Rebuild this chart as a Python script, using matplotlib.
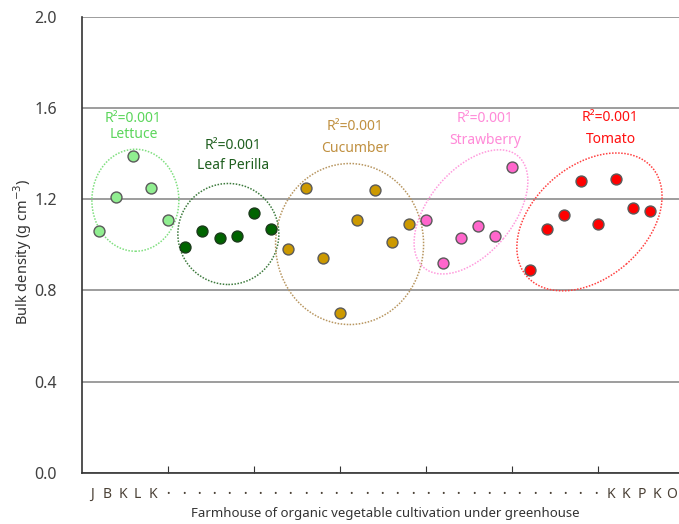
import numpy as np
import matplotlib.pyplot as plt
from matplotlib.patches import Ellipse
from matplotlib.transforms import ScaledTranslation

plt.rcParams['font.family'] = ['Noto Sans', 'DejaVu Sans']

# Bulk density per farmhouse, grouped by crop
lettuce = [1.06, 1.21, 1.39, 1.25, 1.11]
leaf_perilla = [0.99, 1.06, 1.03, 1.04, 1.14, 1.07]
cucumber = [0.98, 1.25, 0.94, 0.70, 1.11, 1.24, 1.01, 1.09]
strawberry = [1.11, 0.92, 1.03, 1.08, 1.04, 1.34]
tomato = [0.89, 1.07, 1.13, 1.28, 1.09, 1.29, 1.16, 1.15]

crops = ['Lettuce', 'Leaf Perilla', 'Cucumber', 'Strawberry', 'Tomato']
r2_values = [0.001, 0.001, 0.001, 0.001, 0.001]

# Farmhouse codes written under the axis
farm_labels = ['J', 'B', 'K', 'L', 'K'] + ['•'] * 29 + ['K', 'K', 'P', 'K', 'O']

face_colors = ['#90EE90', '#006400', '#CC9900', '#FF66CC', '#FF0000']
edge_colors = ['#5a5a5a', '#1a3a1a', '#5a5a5a', '#5a5a5a', '#5a5a5a']
text_colors = ['#5CD65C', '#1F5F1F', '#C09040', '#FF8AD8', '#FF1010']
ring_colors = ['#7FDF7F', '#3C7A3C', '#B89660', '#FF9ADD', '#FF4040']

# ellipse: centre (data), width/height in inches, angle in degrees
rings = [
    (3.11, 1.195, 0.87, 1.02, 0),
    (8.51, 1.047, 1.01, 1.01, 0),
    (15.55, 1.003, 1.48, 1.61, 0),
    (22.6, 1.144, 1.46, 0.84, 50),
    (29.48, 1.100, 1.66, 1.12, 41),
]
# label anchor (data x, y of the R² line) and drop to the crop name
label_pos = [(3.0, 1.555), (8.8, 1.435), (15.85, 1.52), (23.4, 1.555), (30.7, 1.56)]
name_drop = [0.072, 0.088, 0.1, 0.096, 0.1]

fig = plt.figure(figsize=(6.79, 5.24), dpi=100)
ax = fig.add_axes([0.1205, 0.0979, 0.8876, 0.8702])

series = [lettuce, leaf_perilla, cucumber, strawberry, tomato]
start = 1
for i, vals in enumerate(series):
    xs = np.arange(start, start + len(vals))
    start += len(vals)
    ax.scatter(xs, vals, s=62, color=face_colors[i], edgecolors=edge_colors[i],
               linewidths=1.0, zorder=3)

    cx, cy, w, h, ang = rings[i]
    tr = fig.dpi_scale_trans + ScaledTranslation(cx, cy, ax.transData)
    ax.add_patch(Ellipse((0, 0), w, h, angle=ang, transform=tr, fill=False,
                         edgecolor=ring_colors[i], linestyle=(0, (1, 1)),
                         linewidth=1.1, zorder=2))

    lx, ly = label_pos[i]
    ax.text(lx, ly, f'R²={r2_values[i]:.3f}', color=text_colors[i],
            ha='center', va='center', fontsize=10)
    ax.text(lx, ly - name_drop[i], crops[i], color=text_colors[i],
            ha='center', va='center', fontsize=10)

ax.set_xlim(0, 35)
ax.set_ylim(0, 2.0)
ax.set_yticks(np.arange(0, 2.01, 0.4))
ax.set_yticklabels([f'{v:.1f}' for v in np.arange(0, 2.01, 0.4)])
ax.set_xticks(np.arange(5, 35, 5))
ax.set_xticklabels([])
ax.tick_params(axis='x', direction='in', length=5, color='#333333')
ax.tick_params(axis='y', length=0, pad=18, labelsize=11.5, labelcolor='#404040')

ax.grid(axis='y', color='#8c8c8c', linewidth=1.2)
ax.set_axisbelow(True)
for side in ['top', 'right']:
    ax.spines[side].set_visible(False)
for side in ['left', 'bottom']:
    ax.spines[side].set_color('#333333')
    ax.spines[side].set_linewidth(1.2)

ax.set_ylabel('Bulk density (g cm$^{-3}$)', fontsize=10.5, color='#333333')
ax.yaxis.set_label_coords(-0.08, 0.484)

# farmhouse code row
xs_lab = np.linspace(92, 672, len(farm_labels)) / 679
for xf, lab in zip(xs_lab, farm_labels):
    fig.text(xf, 1 - 494 / 524, lab, ha='center', va='center',
             fontsize=6.5 if lab == '•' else 10, color='#4a4035')

fig.text(385 / 679, 1 - 513 / 524,
         'Farmhouse of organic vegetable cultivation under greenhouse',
         ha='center', va='center', fontsize=9.5, color='#333333')

fig.savefig('out.png', dpi=100)
